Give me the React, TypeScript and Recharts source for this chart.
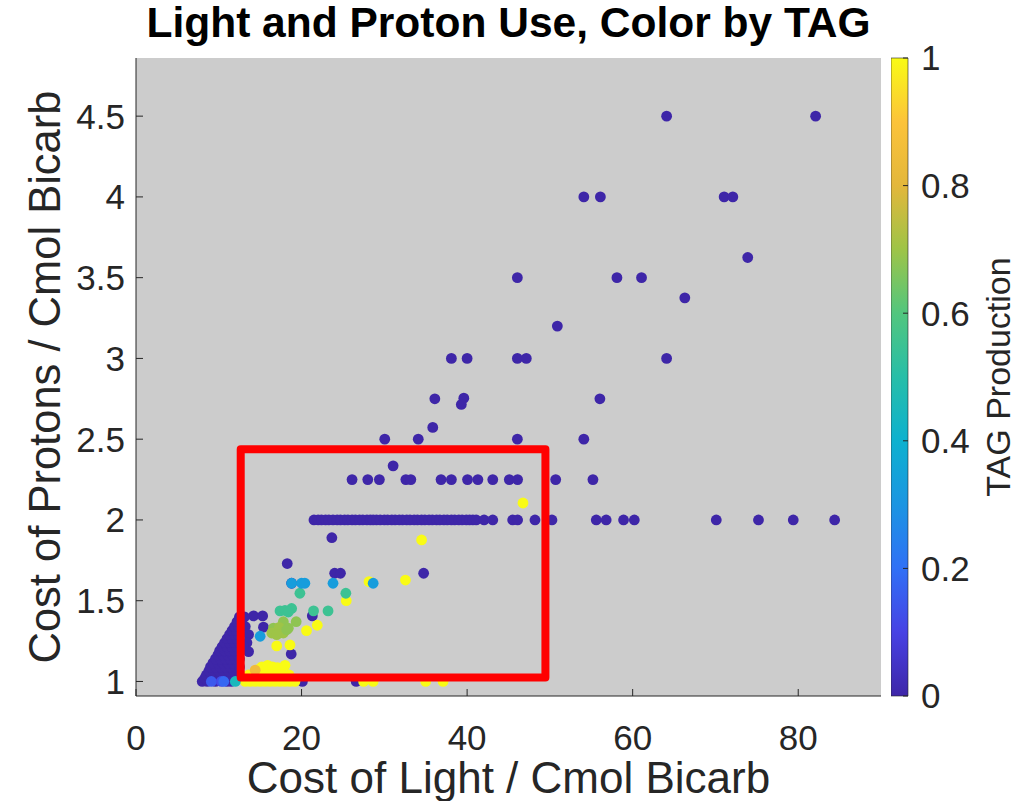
import React from 'react';
import { ScatterChart, Scatter, XAxis, YAxis, CartesianGrid, ReferenceArea } from 'recharts';

// each run: [cost of light, cost of protons, TAG production]
type Run = [number, number, number];

const highCostRuns: Run[] = [
  [64.1, 4.5, 0], [82.1, 4.5, 0], [54.1, 4.0, 0], [56.1, 4.0, 0], [71.05, 4.0, 0], [72.1, 4.0, 0],
  [73.9, 3.625, 0], [46.07, 3.5, 0], [58.1, 3.5, 0], [61.07, 3.5, 0], [66.3, 3.375, 0], [50.9, 3.2, 0],
  [38.1, 3.0, 0], [40.0, 3.0, 0], [46.07, 3.0, 0], [47.15, 3.0, 0], [64.1, 3.0, 0],
  [36.1, 2.75, 0], [39.6, 2.754, 0], [39.3, 2.715, 0], [56.04, 2.75, 0], [35.85, 2.573, 0],
  [30.05, 2.5, 0], [34.1, 2.5, 0], [46.07, 2.5, 0], [54.1, 2.5, 0], [31.06, 2.335, 0],
];

const protonRow225: Run[] = [
  [26.1, 2.25, 0], [28.0, 2.25, 0], [29.4, 2.25, 0], [32.6, 2.25, 0], [33.2, 2.25, 0], [36.85, 2.25, 0],
  [38.1, 2.25, 0], [40.05, 2.25, 0], [41.3, 2.25, 0], [43.1, 2.25, 0], [45.1, 2.25, 0], [46.1, 2.25, 0],
  [50.7, 2.25, 0], [55.2, 2.25, 0],
];

const protonRow2: Run[] = [
  [21.5, 2, 0], [22.0, 2, 0], [22.4, 2, 0], [22.9, 2, 0], [23.3, 2, 0], [23.8, 2, 0], [24.3, 2, 0],
  [24.7, 2, 0], [25.2, 2, 0], [25.6, 2, 0], [26.1, 2, 0], [26.5, 2, 0], [27.0, 2, 0], [27.4, 2, 0],
  [27.9, 2, 0], [28.3, 2, 0], [28.65, 2, 0], [29.05, 2, 0], [29.5, 2, 0], [30.0, 2, 0], [30.4, 2, 0],
  [30.9, 2, 0], [31.3, 2, 0], [31.8, 2, 0], [32.2, 2, 0], [32.7, 2, 0], [33.1, 2, 0], [33.6, 2, 0],
  [34.0, 2, 0], [34.5, 2, 0], [34.9, 2, 0], [35.4, 2, 0], [35.8, 2, 0], [36.3, 2, 0], [36.7, 2, 0],
  [37.2, 2, 0], [37.6, 2, 0], [38.1, 2, 0], [38.5, 2, 0], [39.0, 2, 0], [39.4, 2, 0], [39.9, 2, 0],
  [40.3, 2, 0], [40.7, 2, 0], [41.1, 2, 0], [42.05, 2, 0], [43.1, 2, 0], [45.5, 2, 0], [46.1, 2, 0],
  [48.2, 2, 0], [50.25, 2, 0], [55.6, 2, 0], [56.8, 2, 0], [58.9, 2, 0], [60.2, 2, 0], [70.1, 2, 0],
  [75.2, 2, 0], [79.4, 2, 0], [84.4, 2, 0],
];

const lowDarkRuns: Run[] = [
  [23.66, 1.89, 0], [24.0, 1.67, 0], [24.7, 1.67, 0], [34.75, 1.67, 0], [18.27, 1.73, 0], [18.8, 1.608, 0],
  [21.3, 1.406, 0], [14.2, 1.406, 0], [15.3, 1.406, 0], [13.1, 1.4, 0], [13.2, 1.34, 0], [15.4, 1.336, 0],
  [13.6, 1.29, 0], [13.4, 1.24, 0], [13.6, 1.185, 0], [13.0, 1.22, 0], [18.75, 1.17, 0],
  [20.1, 1.0, 0], [26.6, 1.0, 0],
];

const darkCluster: Run[] = [
  [8.0, 1.0, 0], [8.6, 1.0, 0], [9.6, 1.0, 0], [11.0, 1.0, 0], [11.5, 1.0, 0],
  [8.3, 1.02, 0], [8.9, 1.02, 0], [9.5, 1.02, 0], [10.1, 1.02, 0], [10.7, 1.02, 0], [11.3, 1.02, 0], [11.9, 1.02, 0],
  [8.5, 1.04, 0], [9.1, 1.04, 0], [9.7, 1.04, 0], [10.3, 1.04, 0], [10.9, 1.04, 0], [11.5, 1.04, 0], [12.1, 1.04, 0],
  [8.8, 1.065, 0], [9.4, 1.065, 0], [10.0, 1.065, 0], [10.6, 1.065, 0], [11.2, 1.065, 0], [11.8, 1.065, 0],
  [9.0, 1.09, 0], [9.6, 1.09, 0], [10.2, 1.09, 0], [10.8, 1.09, 0], [11.4, 1.09, 0], [12.0, 1.09, 0], [12.5, 1.09, 0],
  [9.3, 1.115, 0], [9.9, 1.115, 0], [10.5, 1.115, 0], [11.1, 1.115, 0], [11.7, 1.115, 0], [12.3, 1.115, 0],
  [9.6, 1.14, 0], [10.2, 1.14, 0], [10.8, 1.14, 0], [11.4, 1.14, 0], [12.0, 1.14, 0], [12.5, 1.14, 0],
  [9.9, 1.165, 0], [10.5, 1.165, 0], [11.1, 1.165, 0], [11.7, 1.165, 0], [12.3, 1.165, 0],
  [10.1, 1.19, 0], [10.7, 1.19, 0], [11.3, 1.19, 0], [11.9, 1.19, 0], [12.5, 1.19, 0],
  [10.4, 1.215, 0], [11.0, 1.215, 0], [11.6, 1.215, 0], [12.2, 1.215, 0],
  [10.7, 1.24, 0], [11.3, 1.24, 0], [11.9, 1.24, 0], [12.5, 1.24, 0],
  [11.0, 1.265, 0], [11.6, 1.265, 0], [12.2, 1.265, 0],
  [11.3, 1.29, 0], [11.9, 1.29, 0], [12.4, 1.29, 0],
  [11.6, 1.315, 0], [12.1, 1.315, 0],
  [11.9, 1.34, 0], [12.4, 1.34, 0], [12.2, 1.37, 0], [12.7, 1.37, 0], [12.5, 1.4, 0],
];

const fullTagRuns: Run[] = [
  [34.5, 1.876, 1], [46.75, 2.105, 1], [28.15, 1.618, 1], [32.55, 1.628, 1], [25.4, 1.5, 1],
  [21.9, 1.348, 1], [20.6, 1.315, 1], [17.0, 1.22, 1], [18.6, 1.226, 1],
  [15.2, 1.09, 1], [15.9, 1.1, 1], [16.5, 1.09, 1], [17.1, 1.085, 1], [18.0, 1.1, 1], [14.8, 1.075, 1],
  [13.6, 1.04, 1], [14.3, 1.04, 1], [15.0, 1.04, 1], [15.7, 1.04, 1], [16.4, 1.04, 1], [17.1, 1.04, 1],
  [17.8, 1.04, 1], [18.5, 1.04, 1],
  [13.2, 1.0, 1], [13.8, 1.0, 1], [14.4, 1.0, 1], [15.0, 1.0, 1], [15.6, 1.0, 1], [16.2, 1.0, 1],
  [16.8, 1.0, 1], [17.4, 1.0, 1], [18.0, 1.0, 1], [18.6, 1.0, 1], [19.2, 1.0, 1],
  [27.5, 1.0, 1], [28.65, 1.0, 1], [35.0, 1.0, 1], [37.1, 1.0, 1],
  [14.4, 1.07, 0.85],
];

const partialTagRuns: Run[] = [
  [9.1, 1.0, 0.15], [10.3, 1.0, 0.12], [10.6, 1.0, 0.18], [12.0, 1.0, 0.45],
  [17.8, 1.37, 0.68], [19.35, 1.37, 0.68], [16.6, 1.33, 0.68], [17.3, 1.335, 0.7], [18.4, 1.33, 0.68],
  [16.4, 1.3, 0.7], [17.8, 1.3, 0.7], [17.0, 1.29, 0.7], [18.2, 1.32, 0.68],
  [19.8, 1.546, 0.55], [25.35, 1.546, 0.55], [17.4, 1.437, 0.55], [18.0, 1.44, 0.55], [18.8, 1.452, 0.55],
  [18.4, 1.43, 0.55], [21.45, 1.437, 0.55], [23.2, 1.437, 0.55],
  [18.8, 1.608, 0.33], [20.0, 1.608, 0.33], [20.4, 1.608, 0.33], [23.8, 1.608, 0.33], [28.65, 1.608, 0.33],
  [15.0, 1.28, 0.33],
];

// highlighted region (red box)
const boxLight = [12.65, 49.46];
const boxProton = [1.025, 2.437];

const xTicks = [0, 20, 40, 60, 80];
const yTicks = [1, 1.5, 2, 2.5, 3, 3.5, 4, 4.5];
const tagTicks = [0, 0.2, 0.4, 0.6, 0.8, 1];

const parulaStops: [number, string][] = [
  [0.0, '#3e26a8'], [0.1, '#4742e4'], [0.2, '#3070f6'], [0.3, '#1b95e2'], [0.4, '#0db1cf'],
  [0.5, '#27bea8'], [0.6, '#52c67e'], [0.7, '#9ec447'], [0.8, '#e3b73b'], [0.9, '#fcc33a'], [1.0, '#f9fb15'],
];

const hex = (h: string) => [1, 3, 5].map(i => parseInt(h.slice(i, i + 2), 16));

const parula = (t: number) => {
  const v = Math.max(0, Math.min(1, t));
  for (let i = 1; i < parulaStops.length; i++) {
    const [t1, c1] = parulaStops[i];
    const [t0, c0] = parulaStops[i - 1];
    if (v <= t1) {
      const f = (v - t0) / (t1 - t0);
      const a = hex(c0), b = hex(c1);
      const c = a.map((x, k) => Math.round(x + (b[k] - x) * f));
      return `rgb(${c[0]},${c[1]},${c[2]})`;
    }
  }
  return parulaStops[parulaStops.length - 1][1];
};

const toRows = (runs: Run[]) => runs.map(([light, proton, tag]) => ({ light, proton, tag }));

const boxRows = [
  { light: boxLight[0], proton: boxProton[0] },
  { light: boxLight[1], proton: boxProton[0] },
  { light: boxLight[1], proton: boxProton[1] },
  { light: boxLight[0], proton: boxProton[1] },
  { light: boxLight[0], proton: boxProton[0] },
];

const FONT = '"Liberation Sans", Arial, Helvetica, sans-serif';
const INK = '#262626';

const Dot = (props: any) => {
  const { cx, cy, payload } = props;
  return <circle cx={cx} cy={cy} r={5.4} fill={parula(payload.tag)} />;
};

const YLabel = (props: any) => {
  const vb = props.viewBox;
  const x = vb.x + 60;
  const y = vb.y + vb.height / 2;
  return (
    <text x={x} y={y} transform={`rotate(-90, ${x}, ${y})`} textAnchor="middle"
      fontSize={43.5} fontFamily={FONT} fill={INK}>
      Cost of Protons / Cmol Bicarb
    </text>
  );
};

const TagLabel = (props: any) => {
  const vb = props.viewBox;
  const x = vb.x + 102;
  const y = vb.y + vb.height / 2;
  return (
    <text x={x} y={y} transform={`rotate(-90, ${x}, ${y})`} textAnchor="middle"
      fontSize={34} fontFamily={FONT} fill={INK}>
      TAG Production
    </text>
  );
};

const groups = [darkCluster, lowDarkRuns, protonRow2, protonRow225, highCostRuns, fullTagRuns, partialTagRuns];

export default function App() {
  const tickStyle = { fontSize: 35, fontFamily: FONT, fill: INK };
  return (
    <div style={{ position: 'absolute', left: 0, top: 0, width: 1035, height: 801, background: '#fff' }}>
      <div style={{
        position: 'absolute', left: 136, top: 2, width: 745, textAlign: 'center',
        fontFamily: FONT, fontWeight: 'bold', fontSize: 42.5, lineHeight: '42px', color: '#000',
      }}>
        Light and Proton Use, Color by TAG
      </div>

      <div style={{ position: 'absolute', left: 0, top: 0 }}>
        <ScatterChart width={1035} height={801} margin={{ top: 58, right: 154, bottom: 0, left: 0 }}>
          <CartesianGrid fill="#cccccc" stroke="none" horizontal={false} vertical={false} />
          <XAxis type="number" dataKey="light" domain={[0, 90]} ticks={xTicks} allowDataOverflow
            height={105} tickSize={-7} tickMargin={36} tick={tickStyle}
            axisLine={{ stroke: INK }} tickLine={{ stroke: INK }}
            label={{ value: 'Cost of Light / Cmol Bicarb', position: 'insideBottom', offset: 8,
              style: { fontSize: 44, fontFamily: FONT, fill: INK } }} />
          <YAxis type="number" dataKey="proton" domain={[0.91, 4.86]} ticks={yTicks} allowDataOverflow
            width={136} tickSize={-7} tickMargin={18} tick={tickStyle}
            axisLine={{ stroke: INK }} tickLine={{ stroke: INK }}
            label={<YLabel />} />
          {groups.map((g, i) => (
            <Scatter key={i} data={toRows(g)} shape={Dot} isAnimationActive={false} />
          ))}
          <Scatter data={boxRows} shape={() => <g />} isAnimationActive={false}
            line={{ stroke: '#ff0000', strokeWidth: 8, strokeLinejoin: 'round', strokeLinecap: 'round' }}
            lineJointType="linear" />
        </ScatterChart>
      </div>

      <div style={{ position: 'absolute', left: 891, top: 0 }}>
        <ScatterChart width={144} height={801} margin={{ top: 58, right: 0, bottom: 105, left: 0 }}>
          <defs>
            <linearGradient id="parulaGrad" x1="0" y1="1" x2="0" y2="0">
              {parulaStops.map(([t, c]) => (
                <stop key={t} offset={`${t * 100}%`} stopColor={c} />
              ))}
            </linearGradient>
          </defs>
          <XAxis type="number" dataKey="x" domain={[0, 1]} hide />
          <YAxis type="number" dataKey="y" orientation="right" domain={[0, 1]} ticks={tagTicks}
            width={127} tickSize={-5} tickMargin={18} tick={tickStyle}
            axisLine={false} tickLine={{ stroke: INK }}
            label={<TagLabel />} />
          <ReferenceArea x1={0} x2={1} y1={0} y2={1} fill="url(#parulaGrad)" fillOpacity={1}
            stroke={INK} strokeWidth={0.6} />
          <Scatter data={tagTicks.map(t => ({ x: 0.5, y: t }))} shape={() => <g />} isAnimationActive={false} />
        </ScatterChart>
      </div>
    </div>
  );
}
